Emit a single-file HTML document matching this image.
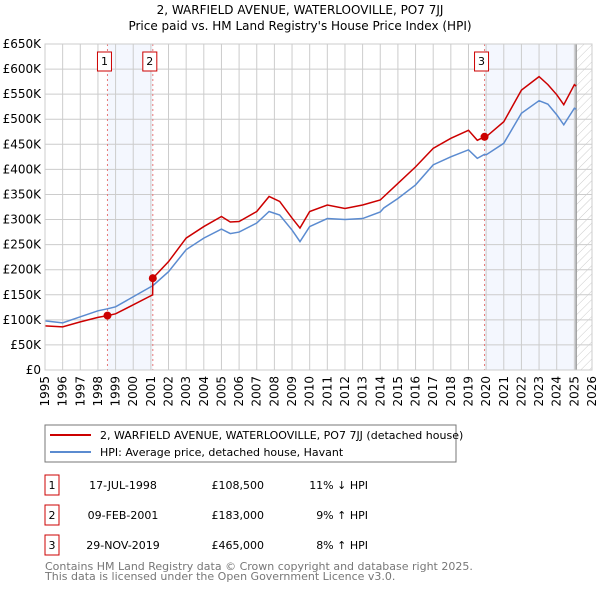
<!DOCTYPE html>
<html><head><meta charset="utf-8"><style>
body{margin:0;background:#fff;font-family:"DejaVu Sans","Liberation Sans",sans-serif;}
svg text{font-family:"DejaVu Sans","Liberation Sans",sans-serif;}
</style></head><body>
<svg id="c" width="600" height="590" viewBox="0 0 600 590" xmlns="http://www.w3.org/2000/svg">
<defs><pattern id="hatch" width="6" height="6" patternUnits="userSpaceOnUse" patternTransform="rotate(45)"><line x1="0" y1="0" x2="0" y2="6" stroke="#ccc" stroke-width="1"/></pattern></defs>
<text x="300" y="14" text-anchor="middle" font-size="12">2, WARFIELD AVENUE, WATERLOOVILLE, PO7 7JJ</text>
<text x="300" y="30" text-anchor="middle" font-size="12">Price paid vs. HM Land Registry's House Price Index (HPI)</text>
<g id="plot"></g>
<rect x="45" y="425" width="411" height="37" fill="#fff" stroke="#777"/>
<line x1="50" y1="435" x2="91" y2="435" stroke="#cc0000" stroke-width="2"/>
<text x="100" y="439" font-size="11">2, WARFIELD AVENUE, WATERLOOVILLE, PO7 7JJ (detached house)</text>
<line x1="50" y1="452" x2="91" y2="452" stroke="#5b8bd0" stroke-width="2"/>
<text x="100" y="456" font-size="11">HPI: Average price, detached house, Havant</text>
<g id="tbl" font-size="11"></g>
<text x="45" y="570" font-size="11" fill="#777">Contains HM Land Registry data © Crown copyright and database right 2025.</text>
<text x="45" y="580" font-size="11" fill="#777">This data is licensed under the Open Government Licence v3.0.</text>
</svg>
<script>
const hpiYears=[1995,1996,1997,1998,1998.54,1999,2000,2001,2001.11,2002,2003,2004,2005,2005.5,2006,2007,2007.7,2008.3,2009,2009.45,2010,2011,2012,2013,2014,2014.2,2015,2016,2017,2018,2019,2019.5,2019.91,2020,2021,2022,2023,2023.5,2024,2024.4,2025,2025.1];
const hpiValues=[98,94,106,118,122,126,146,166,168,196,240,263,281,272,275,293,316,309,279,256,286,302,300,302,315,323,342,369,409,425,439,422,430,429,452,512,537,530,509,489,522,520];
const priceYears=[1995,1996,1997,1998,1998.54,1999,2000,2001,2001.1,2001.11,2002,2003,2004,2005,2005.5,2006,2007,2007.7,2008.3,2009,2009.45,2010,2011,2012,2013,2014,2015,2016,2017,2018,2019,2019.5,2019.91,2020,2021,2022,2023,2023.5,2024,2024.4,2025,2025.1];
const priceValues=[88,86,96,105,108.5,112,130,148,150,183,216,263,286,306,295,296,316,346,336,303,283,316,329,322,329,339,372,405,442,462,478,458,465,465,495,558,585,569,549,529,569,566];
const saleYears=[1998.54,2001.11,2019.91];
const saleValues=[108.5,183,465];
const saleDates=["17-JUL-1998","09-FEB-2001","29-NOV-2019"];
const salePrices=["£108,500","£183,000","£465,000"];
const saleDiffs=["11% ↓ HPI","9% ↑ HPI","8% ↑ HPI"];
const yTicks=[0,50,100,150,200,250,300,350,400,450,500,550,600,650];
const yTickLabels=["£0","£50K","£100K","£150K","£200K","£250K","£300K","£350K","£400K","£450K","£500K","£550K","£600K","£650K"];
const xTicks=[1995,1996,1997,1998,1999,2000,2001,2002,2003,2004,2005,2006,2007,2008,2009,2010,2011,2012,2013,2014,2015,2016,2017,2018,2019,2020,2021,2022,2023,2024,2025,2026];
const dataEnd=2025.1;

const NS="http://www.w3.org/2000/svg";
const X0=45,X1=592,Y0=370,Y1=44;
const xs=y=>X0+(y-1995)*(X1-X0)/31;
const ys=v=>Y0-v*(Y0-Y1)/650;
const plot=document.getElementById('plot');
function mk(t,a,p){const e=document.createElementNS(NS,t);for(const k in a)e.setAttribute(k,a[k]);(p||plot).appendChild(e);return e;}

let bg=mk('rect',{x:X0,y:Y1,width:X1-X0,height:Y0-Y1,fill:'#fff'});


let s1=mk('rect',{x:xs(saleYears[0]),y:Y1,width:xs(saleYears[1])-xs(saleYears[0]),height:Y0-Y1,fill:'#f4f7fe'});


let s3=mk('rect',{x:xs(saleYears[2]),y:Y1,width:xs(dataEnd)-xs(saleYears[2]),height:Y0-Y1,fill:'#f4f7fe'});


let ht=mk('rect',{x:xs(dataEnd),y:Y1,width:X1-xs(dataEnd),height:Y0-Y1,fill:'url(#hatch)'});



yTicks.forEach((v,i)=>{
 let l=mk('line',{x1:X0,x2:X1,y1:ys(v),y2:ys(v),stroke:'#ccc'});
 
 
 let t=mk('text',{x:X0-4,y:ys(v)+4,'text-anchor':'end','font-size':12});
 t.textContent=yTickLabels[i];
 
 
});
xTicks.forEach(y=>{
 let l=mk('line',{x1:xs(y),x2:xs(y),y1:Y1,y2:Y0,stroke:'#ccc'});
 
 
 let t=mk('text',{x:0,y:0,'text-anchor':'end','font-size':12,transform:`translate(${xs(y)+4},${Y0+6}) rotate(-90)`});
 t.textContent=y;
 
 
});
let de=mk('line',{x1:xs(dataEnd),x2:xs(dataEnd),y1:Y1,y2:Y0,stroke:'#999','stroke-width':1.5});



saleYears.forEach((y,i)=>{
 let l=mk('line',{x1:xs(y),x2:xs(y),y1:Y1,y2:Y0,stroke:'#e87878','stroke-dasharray':'2,3'});
 
 
 let b=mk('rect',{x:xs(y)-10,y:52,width:14,height:19,fill:'#fff',stroke:'#cc0000'});
 
 
 let t=mk('text',{x:xs(y)-3,y:65,'text-anchor':'middle','font-size':11});
 t.textContent=String(i+1);
 
 
});

let hp=mk('polyline',{points:hpiYears.map((y,i)=>xs(y)+','+ys(hpiValues[i])).join(' '),fill:'none',stroke:'#5b8bd0','stroke-width':1.5});


let pp=mk('polyline',{points:priceYears.map((y,i)=>xs(y)+','+ys(priceValues[i])).join(' '),fill:'none',stroke:'#cc0000','stroke-width':1.5});


saleYears.forEach((y,i)=>{
 let c=mk('circle',{cx:xs(y),cy:ys(saleValues[i]),r:4,fill:'#cc0000'});
 
 
});
let fr=mk('rect',{x:X0,y:Y1,width:X1-X0,height:Y0-Y1,fill:'none',stroke:'#ccc'});



const tbl=document.getElementById('tbl');
saleYears.forEach((y,i)=>{
 const ty=475+i*30;
 let b=mk('rect',{x:45,y:ty,width:14,height:20,fill:'none',stroke:'#cc0000'},tbl);
 
 
 let n=mk('text',{x:52,y:ty+14,'text-anchor':'middle'},tbl);n.textContent=String(i+1);
 
 
 let d=mk('text',{x:123,y:ty+14,'text-anchor':'middle'},tbl);d.textContent=saleDates[i];
 
 
 let p=mk('text',{x:264,y:ty+14,'text-anchor':'end'},tbl);p.textContent=salePrices[i];
 
 
 let h=mk('text',{x:368,y:ty+14,'text-anchor':'end'},tbl);h.textContent=saleDiffs[i];
 
 
});
</script>
</body></html>
